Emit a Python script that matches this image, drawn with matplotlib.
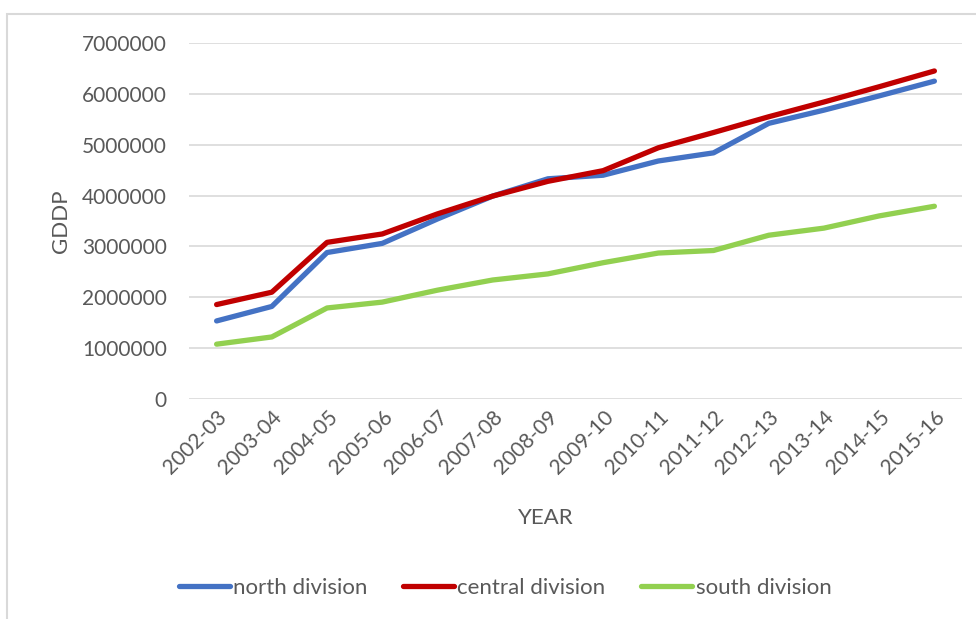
import matplotlib
matplotlib.use("Agg")
import matplotlib.pyplot as plt
from matplotlib.lines import Line2D
import numpy as np

years = ["2002-03", "2003-04", "2004-05", "2005-06", "2006-07", "2007-08", "2008-09",
         "2009-10", "2010-11", "2011-12", "2012-13", "2013-14", "2014-15", "2015-16"]
north = [1535000, 1820000, 2880000, 3060000, 3540000, 3990000, 4330000,
         4400000, 4680000, 4840000, 5420000, 5680000, 5960000, 6250000]
central = [1857000, 2100000, 3080000, 3245000, 3640000, 3990000, 4280000,
           4490000, 4940000, 5240000, 5550000, 5840000, 6140000, 6450000]
south = [1078000, 1220000, 1790000, 1905000, 2140000, 2340000, 2460000,
         2680000, 2870000, 2920000, 3220000, 3360000, 3600000, 3790000]
series_names = ["north division", "central division", "south division"]
series_colors = ["#4472C4", "#C00000", "#92D050"]
yticks = [0, 1000000, 2000000, 3000000, 4000000, 5000000, 6000000, 7000000]

plt.rcParams['font.family'] = ['Lato', 'DejaVu Sans']
text_color = "#595959"
grid_color = "#D9D9D9"

W, H = 976, 619
fig = plt.figure(figsize=(W / 100, H / 100), dpi=100)

# chart frame (top and left edges visible)
fig.patches.append(plt.Rectangle((7 / W, -0.05), 1.1, 1.05 - 14 / H,
                                 transform=fig.transFigure, fill=False,
                                 edgecolor=grid_color, linewidth=1.5))

left, right, top, bottom = 189, 962, 43, 399
ax = fig.add_axes([left / W, 1 - bottom / H, (right - left) / W, (bottom - top) / H])

x = np.arange(len(years))
for vals, name, col in zip([north, central, south], series_names, series_colors):
    ax.plot(x, vals, color=col, lw=3.8, solid_capstyle='round',
            solid_joinstyle='round', label=name)

ax.set_xlim(-0.5, len(years) - 0.5)
ax.set_ylim(0, 7000000)
ax.set_yticks(yticks)
ax.set_yticklabels([str(v) for v in yticks])
ax.set_xticks(x)
ax.set_xticklabels(years, rotation=45, ha='right', va='top', rotation_mode='anchor')

ax.grid(axis='y', color=grid_color, lw=1.2)
ax.set_axisbelow(True)
for s in ax.spines.values():
    s.set_visible(False)
ax.tick_params(axis='both', length=0, labelsize=15, colors=text_color)
ax.tick_params(axis='y', pad=16)
ax.tick_params(axis='x', pad=6)

ax.set_ylabel("GDDP", fontsize=16, color=text_color, labelpad=8)
fig.text(546 / W, 1 - 518 / H, "YEAR", fontsize=16, color=text_color,
         ha='center', va='center')

handles = [Line2D([0], [0], color=c, lw=3.8, solid_capstyle='round') for c in series_colors]
fig.legend(handles, series_names, loc='center', bbox_to_anchor=(505 / W, 1 - 588 / H),
           ncol=3, frameon=False, fontsize=16, labelcolor=text_color,
           handlelength=2.3, handletextpad=0.15, columnspacing=1.6)

fig.savefig("out.png", dpi=100, facecolor="white")
